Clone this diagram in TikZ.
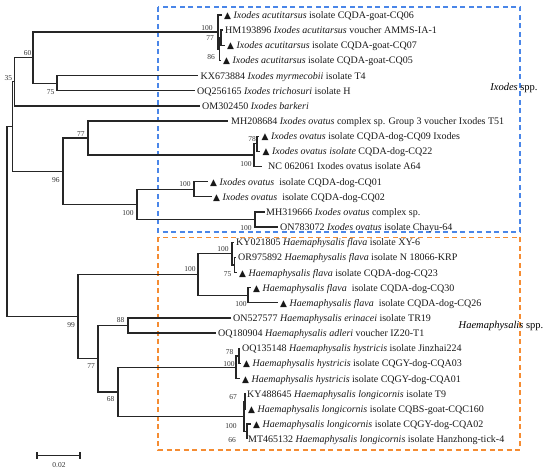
\documentclass[tikz,border=0pt]{standalone}
\usepackage{fontspec}
\setmainfont{Liberation Serif}
\newfontfamily\dejavu{DejaVu Sans}
\newcommand{\trimark}{{\dejavu\fontsize{9}{9}\selectfont ▲}}
\definecolor{boxblue}{RGB}{74,134,232}
\definecolor{boxorange}{RGB}{245,140,50}
\newcommand{\mktip}[5]{\coordinate (t#1) at (#2,#4); \node[tiplab] (l#1) at ({#3},{#4+3.5}) {#5};}
\begin{document}
\begin{tikzpicture}[x=1pt,y=-1pt,
  branch/.style={line width=1.3pt, draw=black!85},
  tiplab/.style={anchor=base west, inner sep=0pt, font=\fontsize{10}{12}\selectfont, text=black!90},
  boot/.style={inner sep=0pt, font=\fontsize{7.5}{9}\selectfont, text=black!80},
  cladebox/.style={line width=1.2pt, dash pattern=on 5pt off 3.5pt}]
\useasboundingbox (0,0) rectangle (550,473);

% clade boxes
\draw[cladebox, boxblue] (158,7) rectangle (520,232);
\draw[cladebox, boxorange] (158,237.5) rectangle (520,450);
\node[font=\fontsize{10.5}{12}\selectfont] (ixlab) at (514,88) {\textit{Ixodes} spp.};
\node[font=\fontsize{10.5}{12}\selectfont] (halab) at (501,326) {\textit{Haemaphysalis} spp.};

% tips
\mktip{1}{222}{224}{15}{\trimark\ \textit{Ixodes acutitarsus} isolate CQDA-goat-CQ06}
\mktip{2}{223}{225}{30.15}{HM193896 \textit{Ixodes acutitarsus} voucher AMMS-IA-1}
\mktip{3}{225}{227}{45.3}{\trimark\ \textit{Ixodes acutitarsus} isolate CQDA-goat-CQ07}
\mktip{4}{221}{223}{60.45}{\trimark\ \textit{Ixodes acutitarsus} isolate CQDA-goat-CQ05}
\mktip{5}{198}{200.5}{75.6}{KX673884 \textit{Ixodes myrmecobii} isolate T4}
\mktip{6}{195}{197}{90.75}{OQ256165 \textit{Ixodes trichosuri} isolate H}
\mktip{7}{200}{202}{105.9}{OM302450 \textit{Ixodes barkeri}}
\mktip{8}{228}{231}{121.05}{MH208684 \textit{Ixodes ovatus} complex sp. Group 3 voucher Ixodes T51}
\mktip{9}{259}{261.5}{136.2}{\trimark\ \textit{Ixodes ovatus} isolate CQDA-dog-CQ09 Ixodes}
\mktip{10}{260}{262.5}{151.35}{\trimark\ \textit{Ixodes ovatus isolate} CQDA-dog-CQ22}
\mktip{11}{262}{268}{166.5}{NC 062061 Ixodes ovatus isolate A64}
\mktip{12}{208}{210}{181.65}{\trimark\ \textit{Ixodes ovatus}\ \ isolate CQDA-dog-CQ01}
\mktip{13}{212}{213}{196.8}{\trimark\ \textit{Ixodes ovatus}\ \ isolate CQDA-dog-CQ02}
\mktip{14}{265}{266}{211.95}{MH319666 \textit{Ixodes ovatus} complex sp.}
\mktip{15}{278}{280}{227.1}{ON783072 \textit{Ixodes ovatus} isolate Chayu-64}
\mktip{16}{234}{236}{242.25}{KY021805 \textit{Haemaphysalis flava} isolate XY-6}
\mktip{17}{236}{238}{257.4}{OR975892 \textit{Haemaphysalis flava} isolate N 18066-KRP}
\mktip{18}{237}{239}{272.55}{\trimark\ \textit{Haemaphysalis flava} isolate CQDA-dog-CQ23}
\mktip{19}{251}{253}{287.7}{\trimark\ \textit{Haemaphysalis flava}\ \ isolate CQDA-dog-CQ30}
\mktip{20}{278}{280}{302.85}{\trimark\ \textit{Haemaphysalis flava}\ \ isolate CQDA-dog-CQ26}
\mktip{21}{231}{233}{318}{ON527577 \textit{Haemaphysalis erinacei} isolate TR19}
\mktip{22}{216}{218}{333.15}{OQ180904 \textit{Haemaphysalis adleri} voucher IZ20-T1}
\mktip{23}{240}{242}{348.3}{OQ135148 \textit{Haemaphysalis hystricis} isolate Jinzhai224}
\mktip{24}{241}{243}{363.45}{\trimark\ \textit{Haemaphysalis hystricis} isolate CQGY-dog-CQA03}
\mktip{25}{240}{242}{378.6}{\trimark\ \textit{Haemaphysalis hystricis} isolate CQGY-dog-CQA01}
\mktip{26}{246}{247}{393.75}{KY488645 \textit{Haemaphysalis longicornis} isolate T9}
\mktip{27}{246}{248}{408.9}{\trimark\ \textit{Haemaphysalis longicornis} isolate CQBS-goat-CQC160}
\mktip{28}{251}{253}{424.05}{\trimark\ \textit{Haemaphysalis longicornis} isolate CQGY-dog-CQA02}
\mktip{29}{247}{248}{439.2}{MT465132 \textit{Haemaphysalis longicornis} isolate Hanzhong-tick-4}

% internal nodes
\coordinate (R) at (7,221.54);
\coordinate (X) at (12.7,126.5);
\coordinate (N35) at (14.3,81.76);
\coordinate (N60) at (33,57.61);
\coordinate (N100a) at (218,32.04);
\coordinate (N86) at (219.5,49.09);
\coordinate (N77a) at (221,37.73);
\coordinate (N75) at (57,83.18);
\coordinate (N96) at (63,171.24);
\coordinate (N77b) at (88,138.1);
\coordinate (N100c) at (254,155.14);
\coordinate (N78) at (257,143.78);
\coordinate (N100d) at (137,204.38);
\coordinate (N100e) at (194,189.23);
\coordinate (N100f) at (255,219.53);
\coordinate (N99) at (78,316.58);
\coordinate (N100g) at (198,274.44);
\coordinate (N100h) at (232,253.6);
\coordinate (N75b) at (234.5,264.98);
\coordinate (N100i) at (248,295.28);
\coordinate (N77h) at (98,358.72);
\coordinate (N88) at (128,325.58);
\coordinate (N68) at (118,391.86);
\coordinate (N100j) at (236,367.24);
\coordinate (N78b) at (239,355.88);
\coordinate (N100k) at (244,416.48);
\coordinate (N67) at (245,401.33);
\coordinate (N66) at (247,431.63);

\foreach \p/\c in {R/X, R/N99, X/N35, X/N96, N35/N60, N35/t7,
  N60/N100a, N60/N75, N100a/t1, N100a/N86, N86/N77a, N86/t4, N77a/t2, N77a/t3,
  N75/t5, N75/t6, N96/N77b, N96/N100d, N77b/t8, N77b/N100c, N100c/N78, N100c/t11,
  N78/t9, N78/t10, N100d/N100e, N100d/N100f, N100e/t12, N100e/t13, N100f/t14, N100f/t15,
  N99/N100g, N99/N77h, N100g/N100h, N100g/N100i, N100h/t16, N100h/N75b, N75b/t17, N75b/t18,
  N100i/t19, N100i/t20, N77h/N88, N77h/N68, N88/t21, N88/t22, N68/N100j, N68/N100k,
  N100j/N78b, N100j/t25, N78b/t23, N78b/t24, N100k/N67, N100k/N66, N67/t26, N67/t27,
  N66/t28, N66/t29}
  \draw[branch] (\p) |- (\c);

% bootstrap values
\node[boot] (b35) at (8.5,78) {35};
\node[boot] (b60) at (27.5,53.5) {60};
\node[boot] (b75) at (50.5,92.5) {75};
\node[boot] (b100a) at (207,28) {100};
\node[boot] (b77a) at (210,38.5) {77};
\node[boot] (b86) at (211,57.5) {86};
\node[boot] (b77b) at (81,134.5) {77};
\node[boot] (b78) at (252,139.5) {78};
\node[boot] (b96) at (56,180) {96};
\node[boot] (b100c) at (246,164) {100};
\node[boot] (b100e) at (185,184.5) {100};
\node[boot] (b100d) at (128,213) {100};
\node[boot] (b100f) at (246,228.5) {100};
\node[boot] (b100g) at (190,269.5) {100};
\node[boot] (b100h) at (223,249.5) {100};
\node[boot] (b75b) at (227.5,274.5) {75};
\node[boot] (b100i) at (241,304.5) {100};
\node[boot] (b99) at (71,325) {99};
\node[boot] (b88) at (120.5,320.5) {88};
\node[boot] (b77h) at (91,366.5) {77};
\node[boot] (b68) at (110.5,399.5) {68};
\node[boot] (b78b) at (229.5,352.5) {78};
\node[boot] (b100j) at (229,364) {100};
\node[boot] (b67) at (233,397) {67};
\node[boot] (b100k) at (231,426) {100};
\node[boot] (b66) at (232,440) {66};

% scale bar
\coordinate (s1) at (37,455.7);
\coordinate (s2) at (80,455.7);
\draw[line width=1.3pt, draw=black!85] ([yshift=-3.2pt]s1) -- ([yshift=3.2pt]s1);
\draw[line width=1.3pt, draw=black!85] ([yshift=-3.2pt]s2) -- ([yshift=3.2pt]s2);
\draw[line width=1.3pt, draw=black!85] (s1) -- (s2);
\node[boot] (sbl) at (59,465.5) {0.02};
\end{tikzpicture}
\end{document}
